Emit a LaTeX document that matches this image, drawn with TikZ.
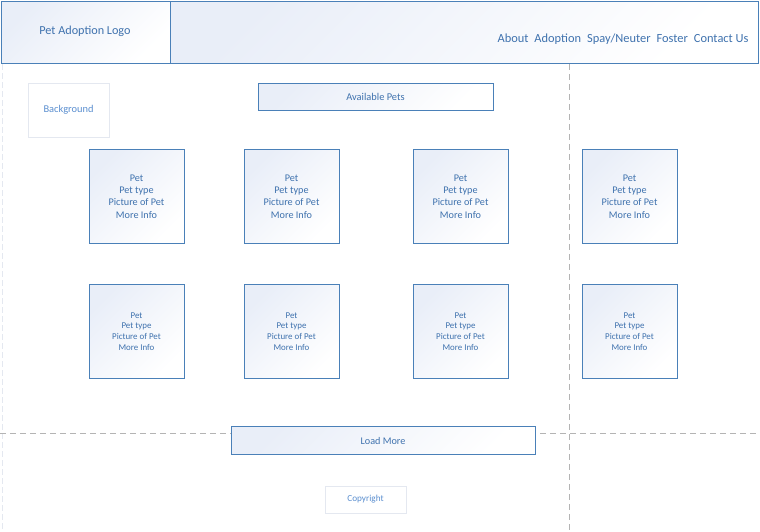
\documentclass[tikz,border=0pt]{standalone}
\usepackage{fontspec}
\setmainfont{Carlito}
\definecolor{bluebd}{HTML}{4A80B8}
\definecolor{bluetx}{HTML}{3F72AE}
\definecolor{lighttx}{HTML}{5B8FD0}
\definecolor{lightbd}{HTML}{E4E8F0}
\definecolor{shadeA}{HTML}{E9EEF8}
\definecolor{dashgray}{HTML}{B4B4B4}
\tikzset{
  px/.style={x=1pt,y=-1pt},
  gbox/.style={draw=bluebd, line width=1pt, shading=axis, top color=shadeA, middle color=white, bottom color=white, shading angle=45},
  lbox/.style={draw=lightbd, line width=0.8pt, fill=white},
  btxt/.style={text=bluetx, align=center},
  ltxt/.style={text=lighttx, align=center},
  guide/.style={draw=dashgray, dashed, dash pattern=on 6pt off 4pt, line width=0.9pt},
  petA/.style={font=\fontsize{10.2}{12.3}\selectfont, btxt},
  petB/.style={font=\fontsize{8.9}{10.7}\selectfont, btxt}
}
\begin{document}
\begin{tikzpicture}[px]
\useasboundingbox (0,0) rectangle (760,531);
\fill[white] (0,0) rectangle (760,531);
% guides
\coordinate (gl1) at (2,64); \coordinate (gl2) at (2,531);
\draw[draw=lightbd, dashed, dash pattern=on 6pt off 3pt, line width=0.9pt] (gl1) -- (gl2);
\coordinate (gv1) at (569,64); \coordinate (gv2) at (569,531);
\draw[guide] (gv1) -- (gv2);
\coordinate (gh1) at (0,433); \coordinate (gh2) at (760,433);
\draw[guide] (gh1) -- (gh2);
% header
\path[gbox] (1,1) rectangle (170,63);
\path[gbox] (170,1) rectangle (758,63);
\node[btxt, font=\fontsize{12.2}{14}\selectfont] (logo) at (85,31) {Pet Adoption Logo};
\node[btxt, font=\fontsize{12.4}{14}\selectfont, anchor=east] (nav) at (752,39.5) {About\hspace{6pt}Adoption\hspace{6pt}Spay/Neuter\hspace{6pt}Foster\hspace{6pt}Contact Us};
% background
\draw[lbox] (28,83) rectangle (109,137);
\node[ltxt, font=\fontsize{10.4}{12}\selectfont] (bg) at (68.5,110) {Background};
% available pets
\path[gbox] (258,83) rectangle (493,110);
\node[btxt, font=\fontsize{10.4}{12}\selectfont] (avail) at (375.5,96.5) {Available Pets};
% pet boxes
\foreach \x/\n in {89/a,244/b,413/c,582/d}{
  \path[gbox] (\x,149) rectangle ({\x+95},243);
  \node[petA] (r1\n) at ({\x+47.5},196.5) {Pet\\Pet type\\Picture of Pet\\More Info};
  \path[gbox] (\x,284) rectangle ({\x+95},378);
  \node[petB] (r2\n) at ({\x+47.5},331.5) {Pet\\Pet type\\Picture of Pet\\More Info};
}
% load more
\path[gbox] (231,426) rectangle (535,454);
\node[btxt, font=\fontsize{10.2}{12}\selectfont] (load) at (383,440.5) {Load More};
% copyright
\draw[lbox] (325,486) rectangle (406,513);
\node[ltxt, font=\fontsize{9.2}{11}\selectfont] (copy) at (365.5,499.5) {Copyright};
\end{tikzpicture}
\end{document}
